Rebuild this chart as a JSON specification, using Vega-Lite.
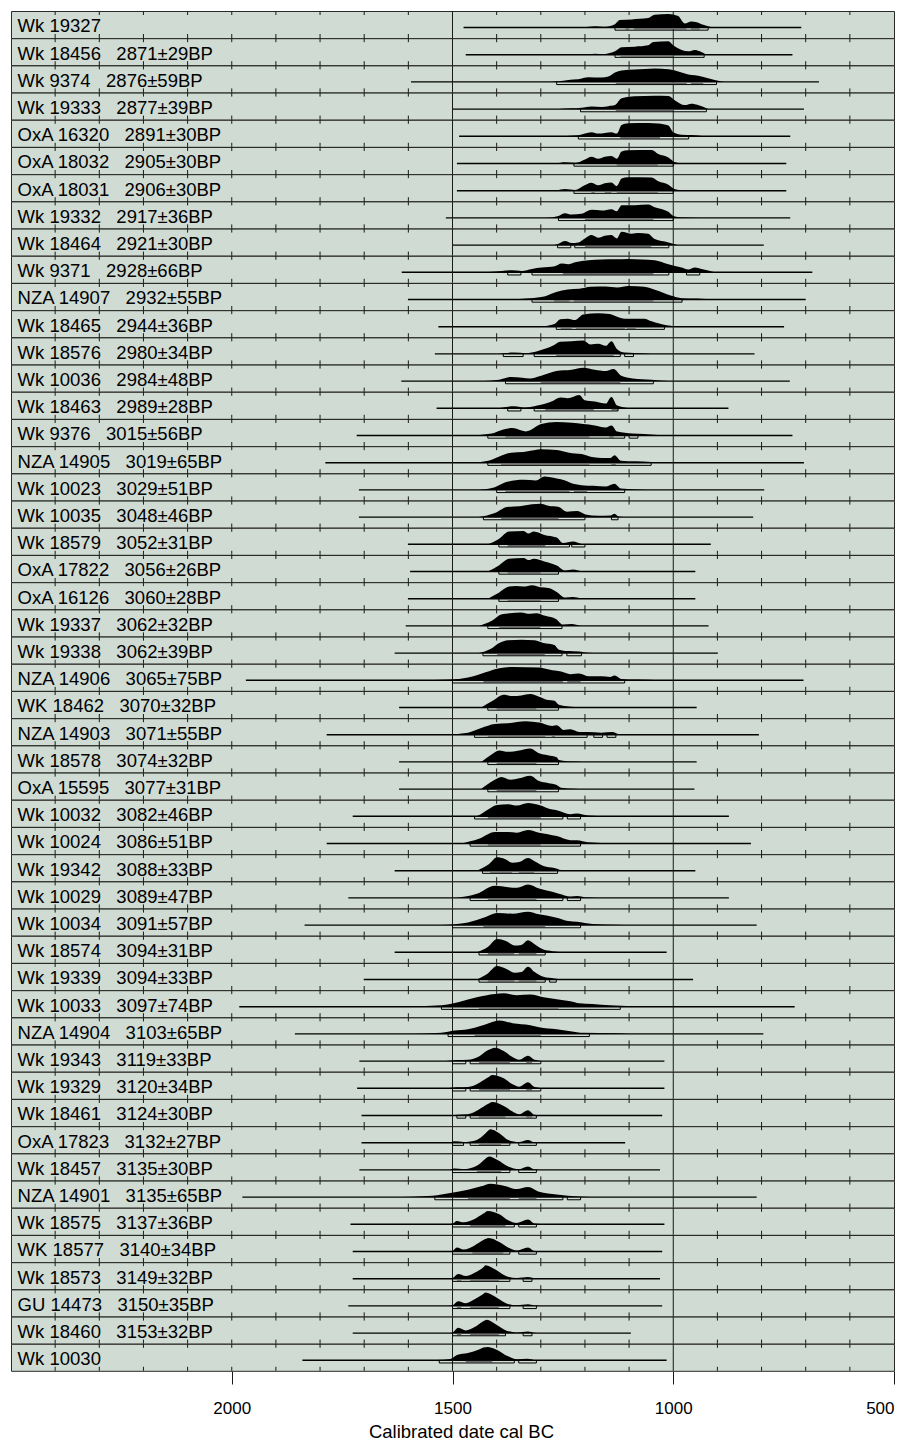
{
"$schema":"https://vega.github.io/schema/vega-lite/v6.json",
"padding":{"left":10,"top":10,"right":4,"bottom":2},
"background":"#ffffff",
"bounds":"flush",
"spacing":0.2,
"data":{"values":[
{"i":0,"k":"L","r":"Wk 19327","a":1475,"b":710},
{"i":0,"k":"D","x":1200,"p":0},{"i":0,"k":"D","x":1192,"p":0.05},{"i":0,"k":"D","x":1177,"p":0.1},{"i":0,"k":"D","x":1158,"p":0.05},{"i":0,"k":"D","x":1132,"p":0.25},{"i":0,"k":"D","x":1121,"p":0.55},{"i":0,"k":"D","x":1094,"p":0.6},{"i":0,"k":"D","x":1057,"p":0.7},{"i":0,"k":"D","x":1042,"p":0.95},{"i":0,"k":"D","x":1011,"p":1},{"i":0,"k":"D","x":989,"p":0.85},{"i":0,"k":"D","x":974,"p":0.3},{"i":0,"k":"D","x":959,"p":0.45},{"i":0,"k":"D","x":947,"p":0.4},{"i":0,"k":"D","x":932,"p":0.2},{"i":0,"k":"D","x":910,"p":0},
{"i":0,"k":"R95","a":1132,"b":921},{"i":0,"k":"R68","a":1108,"b":1100},{"i":0,"k":"R68","a":1089,"b":970},{"i":0,"k":"R68","a":960,"b":940},
{"i":1,"k":"L","r":"Wk 18456\u00a0\u00a0 2871±29BP","a":1470,"b":730},
{"i":1,"k":"D","x":1200,"p":0},{"i":1,"k":"D","x":1192,"p":0.03},{"i":1,"k":"D","x":1177,"p":0.07},{"i":1,"k":"D","x":1160,"p":0.04},{"i":1,"k":"D","x":1132,"p":0.25},{"i":1,"k":"D","x":1117,"p":0.55},{"i":1,"k":"D","x":1087,"p":0.6},{"i":1,"k":"D","x":1057,"p":0.7},{"i":1,"k":"D","x":1045,"p":0.95},{"i":1,"k":"D","x":1011,"p":1},{"i":1,"k":"D","x":1000,"p":0.7},{"i":1,"k":"D","x":981,"p":0.35},{"i":1,"k":"D","x":966,"p":0.25},{"i":1,"k":"D","x":951,"p":0.35},{"i":1,"k":"D","x":940,"p":0.25},{"i":1,"k":"D","x":925,"p":0},
{"i":1,"k":"R95","a":1132,"b":930},{"i":1,"k":"R68","a":1120,"b":1000},
{"i":2,"k":"L","r":"Wk 9374\u00a0\u00a0 2876±59BP","a":1594,"b":670},
{"i":2,"k":"D","x":1275,"p":0},{"i":2,"k":"D","x":1260,"p":0.05},{"i":2,"k":"D","x":1238,"p":0.15},{"i":2,"k":"D","x":1215,"p":0.2},{"i":2,"k":"D","x":1192,"p":0.35},{"i":2,"k":"D","x":1162,"p":0.33},{"i":2,"k":"D","x":1147,"p":0.4},{"i":2,"k":"D","x":1132,"p":0.7},{"i":2,"k":"D","x":1117,"p":0.85},{"i":2,"k":"D","x":1087,"p":0.92},{"i":2,"k":"D","x":1042,"p":1},{"i":2,"k":"D","x":1011,"p":0.95},{"i":2,"k":"D","x":981,"p":0.7},{"i":2,"k":"D","x":966,"p":0.55},{"i":2,"k":"D","x":951,"p":0.5},{"i":2,"k":"D","x":936,"p":0.4},{"i":2,"k":"D","x":906,"p":0.15},{"i":2,"k":"D","x":885,"p":0},
{"i":2,"k":"R95","a":1264,"b":902},{"i":2,"k":"R68","a":1130,"b":970},{"i":2,"k":"R68","a":960,"b":932},
{"i":3,"k":"L","r":"Wk 19333\u00a0\u00a0 2877±39BP","a":1500,"b":704},
{"i":3,"k":"D","x":1260,"p":0},{"i":3,"k":"D","x":1253,"p":0.02},{"i":3,"k":"D","x":1208,"p":0.1},{"i":3,"k":"D","x":1185,"p":0.2},{"i":3,"k":"D","x":1162,"p":0.15},{"i":3,"k":"D","x":1147,"p":0.22},{"i":3,"k":"D","x":1132,"p":0.3},{"i":3,"k":"D","x":1117,"p":0.8},{"i":3,"k":"D","x":1087,"p":0.95},{"i":3,"k":"D","x":1042,"p":1},{"i":3,"k":"D","x":1011,"p":0.98},{"i":3,"k":"D","x":996,"p":0.65},{"i":3,"k":"D","x":974,"p":0.3},{"i":3,"k":"D","x":959,"p":0.4},{"i":3,"k":"D","x":944,"p":0.3},{"i":3,"k":"D","x":921,"p":0},
{"i":3,"k":"R95","a":1210,"b":925},{"i":3,"k":"R68","a":1130,"b":1000},
{"i":4,"k":"L","r":"OxA 16320\u00a0\u00a0 2891±30BP","a":1485,"b":735},
{"i":4,"k":"D","x":1270,"p":0},{"i":4,"k":"D","x":1215,"p":0.08},{"i":4,"k":"D","x":1185,"p":0.3},{"i":4,"k":"D","x":1170,"p":0.2},{"i":4,"k":"D","x":1155,"p":0.25},{"i":4,"k":"D","x":1140,"p":0.3},{"i":4,"k":"D","x":1128,"p":0.2},{"i":4,"k":"D","x":1117,"p":0.85},{"i":4,"k":"D","x":1102,"p":0.97},{"i":4,"k":"D","x":1057,"p":1},{"i":4,"k":"D","x":1034,"p":0.95},{"i":4,"k":"D","x":1011,"p":0.8},{"i":4,"k":"D","x":1000,"p":0.3},{"i":4,"k":"D","x":981,"p":0.12},{"i":4,"k":"D","x":959,"p":0.1},{"i":4,"k":"D","x":930,"p":0},
{"i":4,"k":"R95","a":1215,"b":965},{"i":4,"k":"R68","a":1120,"b":1030},
{"i":5,"k":"L","r":"OxA 18032\u00a0\u00a0 2905±30BP","a":1490,"b":744},
{"i":5,"k":"D","x":1265,"p":0},{"i":5,"k":"D","x":1245,"p":0.1},{"i":5,"k":"D","x":1222,"p":0.05},{"i":5,"k":"D","x":1200,"p":0.3},{"i":5,"k":"D","x":1185,"p":0.5},{"i":5,"k":"D","x":1170,"p":0.35},{"i":5,"k":"D","x":1155,"p":0.5},{"i":5,"k":"D","x":1140,"p":0.55},{"i":5,"k":"D","x":1128,"p":0.35},{"i":5,"k":"D","x":1117,"p":0.9},{"i":5,"k":"D","x":1102,"p":0.98},{"i":5,"k":"D","x":1049,"p":1},{"i":5,"k":"D","x":1034,"p":0.7},{"i":5,"k":"D","x":1011,"p":0.45},{"i":5,"k":"D","x":996,"p":0.1},{"i":5,"k":"D","x":974,"p":0},
{"i":5,"k":"R95","a":1225,"b":1000},{"i":5,"k":"R68","a":1128,"b":1035},
{"i":6,"k":"L","r":"OxA 18031\u00a0\u00a0 2906±30BP","a":1490,"b":744},
{"i":6,"k":"D","x":1265,"p":0},{"i":6,"k":"D","x":1245,"p":0.12},{"i":6,"k":"D","x":1222,"p":0.05},{"i":6,"k":"D","x":1204,"p":0.35},{"i":6,"k":"D","x":1185,"p":0.6},{"i":6,"k":"D","x":1170,"p":0.4},{"i":6,"k":"D","x":1155,"p":0.55},{"i":6,"k":"D","x":1140,"p":0.62},{"i":6,"k":"D","x":1128,"p":0.35},{"i":6,"k":"D","x":1117,"p":0.9},{"i":6,"k":"D","x":1102,"p":1},{"i":6,"k":"D","x":1049,"p":0.98},{"i":6,"k":"D","x":1034,"p":0.7},{"i":6,"k":"D","x":1011,"p":0.45},{"i":6,"k":"D","x":996,"p":0.1},{"i":6,"k":"D","x":974,"p":0},
{"i":6,"k":"R95","a":1225,"b":1000},{"i":6,"k":"R68","a":1185,"b":1178},{"i":6,"k":"R68","a":1155,"b":1140},{"i":6,"k":"R68","a":1128,"b":1035},
{"i":7,"k":"L","r":"Wk 19332\u00a0\u00a0 2917±36BP","a":1515,"b":735},
{"i":7,"k":"D","x":1290,"p":0},{"i":7,"k":"D","x":1260,"p":0.15},{"i":7,"k":"D","x":1245,"p":0.35},{"i":7,"k":"D","x":1230,"p":0.25},{"i":7,"k":"D","x":1208,"p":0.3},{"i":7,"k":"D","x":1185,"p":0.6},{"i":7,"k":"D","x":1162,"p":0.55},{"i":7,"k":"D","x":1140,"p":0.65},{"i":7,"k":"D","x":1128,"p":0.5},{"i":7,"k":"D","x":1117,"p":0.95},{"i":7,"k":"D","x":1087,"p":0.95},{"i":7,"k":"D","x":1057,"p":1},{"i":7,"k":"D","x":1042,"p":0.8},{"i":7,"k":"D","x":1011,"p":0.45},{"i":7,"k":"D","x":1000,"p":0.15},{"i":7,"k":"D","x":974,"p":0.03},{"i":7,"k":"D","x":940,"p":0},
{"i":7,"k":"R95","a":1260,"b":1000},{"i":7,"k":"R68","a":1200,"b":1045},
{"i":8,"k":"L","r":"Wk 18464\u00a0\u00a0 2921±30BP","a":1500,"b":795},
{"i":8,"k":"D","x":1270,"p":0},{"i":8,"k":"D","x":1260,"p":0.1},{"i":8,"k":"D","x":1245,"p":0.3},{"i":8,"k":"D","x":1230,"p":0.15},{"i":8,"k":"D","x":1215,"p":0.2},{"i":8,"k":"D","x":1200,"p":0.5},{"i":8,"k":"D","x":1185,"p":0.75},{"i":8,"k":"D","x":1170,"p":0.55},{"i":8,"k":"D","x":1155,"p":0.7},{"i":8,"k":"D","x":1140,"p":0.75},{"i":8,"k":"D","x":1128,"p":0.5},{"i":8,"k":"D","x":1117,"p":1},{"i":8,"k":"D","x":1094,"p":0.85},{"i":8,"k":"D","x":1079,"p":0.9},{"i":8,"k":"D","x":1057,"p":0.85},{"i":8,"k":"D","x":1042,"p":0.45},{"i":8,"k":"D","x":1011,"p":0.2},{"i":8,"k":"D","x":990,"p":0},
{"i":8,"k":"R95","a":1262,"b":1232},{"i":8,"k":"R95","a":1223,"b":1010},{"i":8,"k":"R68","a":1200,"b":1050},
{"i":9,"k":"L","r":"Wk 9371\u00a0\u00a0 2928±66BP","a":1615,"b":685},
{"i":9,"k":"D","x":1430,"p":0},{"i":9,"k":"D","x":1388,"p":0.1},{"i":9,"k":"D","x":1366,"p":0.15},{"i":9,"k":"D","x":1343,"p":0.1},{"i":9,"k":"D","x":1320,"p":0.25},{"i":9,"k":"D","x":1298,"p":0.35},{"i":9,"k":"D","x":1268,"p":0.45},{"i":9,"k":"D","x":1253,"p":0.65},{"i":9,"k":"D","x":1238,"p":0.6},{"i":9,"k":"D","x":1222,"p":0.75},{"i":9,"k":"D","x":1192,"p":0.9},{"i":9,"k":"D","x":1162,"p":0.95},{"i":9,"k":"D","x":1132,"p":0.97},{"i":9,"k":"D","x":1102,"p":1},{"i":9,"k":"D","x":1072,"p":0.95},{"i":9,"k":"D","x":1042,"p":0.9},{"i":9,"k":"D","x":1011,"p":0.6},{"i":9,"k":"D","x":981,"p":0.35},{"i":9,"k":"D","x":966,"p":0.2},{"i":9,"k":"D","x":951,"p":0.35},{"i":9,"k":"D","x":936,"p":0.25},{"i":9,"k":"D","x":906,"p":0},
{"i":9,"k":"R95","a":1375,"b":1345},{"i":9,"k":"R95","a":1320,"b":1010},{"i":9,"k":"R95","a":970,"b":940},{"i":9,"k":"R68","a":1250,"b":1045},
{"i":10,"k":"L","r":"NZA 14907\u00a0\u00a0 2932±55BP","a":1601,"b":700},
{"i":10,"k":"D","x":1390,"p":0},{"i":10,"k":"D","x":1325,"p":0.1},{"i":10,"k":"D","x":1290,"p":0.25},{"i":10,"k":"D","x":1265,"p":0.55},{"i":10,"k":"D","x":1239,"p":0.75},{"i":10,"k":"D","x":1213,"p":0.8},{"i":10,"k":"D","x":1187,"p":0.95},{"i":10,"k":"D","x":1153,"p":0.97},{"i":10,"k":"D","x":1127,"p":0.9},{"i":10,"k":"D","x":1101,"p":1},{"i":10,"k":"D","x":1066,"p":0.95},{"i":10,"k":"D","x":1040,"p":0.7},{"i":10,"k":"D","x":1006,"p":0.3},{"i":10,"k":"D","x":980,"p":0.1},{"i":10,"k":"D","x":946,"p":0.08},{"i":10,"k":"D","x":905,"p":0},
{"i":10,"k":"R95","a":1320,"b":980},{"i":10,"k":"R68","a":1270,"b":1235},{"i":10,"k":"R68","a":1225,"b":1045},
{"i":11,"k":"L","r":"Wk 18465\u00a0\u00a0 2944±36BP","a":1532,"b":749},
{"i":11,"k":"D","x":1300,"p":0},{"i":11,"k":"D","x":1269,"p":0.2},{"i":11,"k":"D","x":1256,"p":0.55},{"i":11,"k":"D","x":1239,"p":0.6},{"i":11,"k":"D","x":1222,"p":0.5},{"i":11,"k":"D","x":1204,"p":0.9},{"i":11,"k":"D","x":1170,"p":1},{"i":11,"k":"D","x":1144,"p":0.95},{"i":11,"k":"D","x":1127,"p":0.75},{"i":11,"k":"D","x":1110,"p":0.6},{"i":11,"k":"D","x":1092,"p":0.6},{"i":11,"k":"D","x":1066,"p":0.6},{"i":11,"k":"D","x":1049,"p":0.4},{"i":11,"k":"D","x":1015,"p":0.1},{"i":11,"k":"D","x":980,"p":0},
{"i":11,"k":"R95","a":1265,"b":1020},{"i":11,"k":"R68","a":1255,"b":1230},{"i":11,"k":"R68","a":1220,"b":1110},{"i":11,"k":"R68","a":1105,"b":1085},
{"i":12,"k":"L","r":"Wk 18576\u00a0\u00a0 2980±34BP","a":1540,"b":816},
{"i":12,"k":"D","x":1395,"p":0},{"i":12,"k":"D","x":1360,"p":0.1},{"i":12,"k":"D","x":1334,"p":0.05},{"i":12,"k":"D","x":1308,"p":0.2},{"i":12,"k":"D","x":1273,"p":0.6},{"i":12,"k":"D","x":1256,"p":0.9},{"i":12,"k":"D","x":1230,"p":0.95},{"i":12,"k":"D","x":1204,"p":1},{"i":12,"k":"D","x":1187,"p":0.7},{"i":12,"k":"D","x":1170,"p":0.75},{"i":12,"k":"D","x":1153,"p":0.6},{"i":12,"k":"D","x":1140,"p":0.95},{"i":12,"k":"D","x":1127,"p":0.35},{"i":12,"k":"D","x":1110,"p":0.1},{"i":12,"k":"D","x":1066,"p":0.03},{"i":12,"k":"D","x":1050,"p":0},
{"i":12,"k":"R95","a":1385,"b":1340},{"i":12,"k":"R95","a":1315,"b":1120},{"i":12,"k":"R95","a":1110,"b":1090},{"i":12,"k":"R68","a":1265,"b":1135},
{"i":13,"k":"L","r":"Wk 10036\u00a0\u00a0 2984±48BP","a":1616,"b":736},
{"i":13,"k":"D","x":1440,"p":0},{"i":13,"k":"D","x":1394,"p":0.1},{"i":13,"k":"D","x":1368,"p":0.3},{"i":13,"k":"D","x":1342,"p":0.25},{"i":13,"k":"D","x":1325,"p":0.2},{"i":13,"k":"D","x":1299,"p":0.4},{"i":13,"k":"D","x":1265,"p":0.75},{"i":13,"k":"D","x":1230,"p":0.85},{"i":13,"k":"D","x":1204,"p":1},{"i":13,"k":"D","x":1178,"p":0.85},{"i":13,"k":"D","x":1153,"p":0.75},{"i":13,"k":"D","x":1135,"p":0.9},{"i":13,"k":"D","x":1118,"p":0.4},{"i":13,"k":"D","x":1092,"p":0.2},{"i":13,"k":"D","x":1049,"p":0.1},{"i":13,"k":"D","x":1010,"p":0},
{"i":13,"k":"R95","a":1380,"b":1045},{"i":13,"k":"R68","a":1300,"b":1120},
{"i":14,"k":"L","r":"Wk 18463\u00a0\u00a0 2989±28BP","a":1536,"b":875},
{"i":14,"k":"D","x":1395,"p":0},{"i":14,"k":"D","x":1360,"p":0.15},{"i":14,"k":"D","x":1334,"p":0.05},{"i":14,"k":"D","x":1308,"p":0.2},{"i":14,"k":"D","x":1273,"p":0.55},{"i":14,"k":"D","x":1256,"p":0.8},{"i":14,"k":"D","x":1239,"p":0.75},{"i":14,"k":"D","x":1213,"p":1},{"i":14,"k":"D","x":1200,"p":0.6},{"i":14,"k":"D","x":1178,"p":0.5},{"i":14,"k":"D","x":1153,"p":0.35},{"i":14,"k":"D","x":1140,"p":0.85},{"i":14,"k":"D","x":1127,"p":0.2},{"i":14,"k":"D","x":1100,"p":0},
{"i":14,"k":"R95","a":1375,"b":1345},{"i":14,"k":"R95","a":1315,"b":1125},{"i":14,"k":"R68","a":1290,"b":1180},{"i":14,"k":"R68","a":1140,"b":1125},
{"i":15,"k":"L","r":"Wk 9376\u00a0\u00a0 3015±56BP","a":1717,"b":730},
{"i":15,"k":"D","x":1465,"p":0},{"i":15,"k":"D","x":1411,"p":0.15},{"i":15,"k":"D","x":1385,"p":0.45},{"i":15,"k":"D","x":1364,"p":0.55},{"i":15,"k":"D","x":1334,"p":0.3},{"i":15,"k":"D","x":1299,"p":0.85},{"i":15,"k":"D","x":1265,"p":1},{"i":15,"k":"D","x":1230,"p":0.95},{"i":15,"k":"D","x":1204,"p":0.85},{"i":15,"k":"D","x":1178,"p":0.75},{"i":15,"k":"D","x":1153,"p":0.6},{"i":15,"k":"D","x":1140,"p":0.75},{"i":15,"k":"D","x":1127,"p":0.3},{"i":15,"k":"D","x":1092,"p":0.15},{"i":15,"k":"D","x":1066,"p":0.12},{"i":15,"k":"D","x":1020,"p":0},
{"i":15,"k":"R95","a":1420,"b":1110},{"i":15,"k":"R95","a":1100,"b":1080},{"i":15,"k":"R68","a":1380,"b":1190},{"i":15,"k":"R68","a":1145,"b":1135},
{"i":16,"k":"L","r":"NZA 14905\u00a0\u00a0 3019±65BP","a":1788,"b":704},
{"i":16,"k":"D","x":1460,"p":0},{"i":16,"k":"D","x":1419,"p":0.15},{"i":16,"k":"D","x":1395,"p":0.45},{"i":16,"k":"D","x":1367,"p":0.75},{"i":16,"k":"D","x":1339,"p":0.8},{"i":16,"k":"D","x":1320,"p":0.9},{"i":16,"k":"D","x":1301,"p":1},{"i":16,"k":"D","x":1264,"p":0.95},{"i":16,"k":"D","x":1236,"p":0.75},{"i":16,"k":"D","x":1208,"p":0.65},{"i":16,"k":"D","x":1180,"p":0.4},{"i":16,"k":"D","x":1161,"p":0.35},{"i":16,"k":"D","x":1142,"p":0.35},{"i":16,"k":"D","x":1133,"p":0.55},{"i":16,"k":"D","x":1119,"p":0.15},{"i":16,"k":"D","x":1086,"p":0.1},{"i":16,"k":"D","x":1049,"p":0.05},{"i":16,"k":"D","x":1005,"p":0},
{"i":16,"k":"R95","a":1420,"b":1050},{"i":16,"k":"R68","a":1390,"b":1190},{"i":16,"k":"R68","a":1140,"b":1130},
{"i":17,"k":"L","r":"Wk 10023\u00a0\u00a0 3029±51BP","a":1712,"b":794},
{"i":17,"k":"D","x":1440,"p":0},{"i":17,"k":"D","x":1404,"p":0.2},{"i":17,"k":"D","x":1376,"p":0.6},{"i":17,"k":"D","x":1339,"p":0.75},{"i":17,"k":"D","x":1311,"p":0.7},{"i":17,"k":"D","x":1292,"p":1},{"i":17,"k":"D","x":1264,"p":0.85},{"i":17,"k":"D","x":1245,"p":0.7},{"i":17,"k":"D","x":1227,"p":0.45},{"i":17,"k":"D","x":1208,"p":0.35},{"i":17,"k":"D","x":1180,"p":0.3},{"i":17,"k":"D","x":1152,"p":0.25},{"i":17,"k":"D","x":1133,"p":0.45},{"i":17,"k":"D","x":1119,"p":0.1},{"i":17,"k":"D","x":1086,"p":0.03},{"i":17,"k":"D","x":1060,"p":0},
{"i":17,"k":"R95","a":1400,"b":1110},{"i":17,"k":"R68","a":1380,"b":1235},{"i":17,"k":"R68","a":1225,"b":1195},
{"i":18,"k":"L","r":"Wk 10035\u00a0\u00a0 3048±46BP","a":1712,"b":819},
{"i":18,"k":"D","x":1440,"p":0},{"i":18,"k":"D","x":1404,"p":0.3},{"i":18,"k":"D","x":1376,"p":0.75},{"i":18,"k":"D","x":1348,"p":0.8},{"i":18,"k":"D","x":1320,"p":0.95},{"i":18,"k":"D","x":1301,"p":1},{"i":18,"k":"D","x":1283,"p":0.85},{"i":18,"k":"D","x":1259,"p":0.75},{"i":18,"k":"D","x":1241,"p":0.4},{"i":18,"k":"D","x":1217,"p":0.45},{"i":18,"k":"D","x":1199,"p":0.2},{"i":18,"k":"D","x":1170,"p":0.1},{"i":18,"k":"D","x":1142,"p":0.12},{"i":18,"k":"D","x":1133,"p":0.25},{"i":18,"k":"D","x":1124,"p":0.05},{"i":18,"k":"D","x":1100,"p":0},
{"i":18,"k":"R95","a":1430,"b":1200},{"i":18,"k":"R95","a":1140,"b":1125},{"i":18,"k":"R68","a":1390,"b":1260},
{"i":19,"k":"L","r":"Wk 18579\u00a0\u00a0 3052±31BP","a":1601,"b":915},
{"i":19,"k":"D","x":1420,"p":0},{"i":19,"k":"D","x":1395,"p":0.4},{"i":19,"k":"D","x":1372,"p":0.95},{"i":19,"k":"D","x":1339,"p":1},{"i":19,"k":"D","x":1328,"p":0.8},{"i":19,"k":"D","x":1316,"p":0.95},{"i":19,"k":"D","x":1292,"p":0.7},{"i":19,"k":"D","x":1264,"p":0.5},{"i":19,"k":"D","x":1250,"p":0.1},{"i":19,"k":"D","x":1227,"p":0.2},{"i":19,"k":"D","x":1208,"p":0.03},{"i":19,"k":"D","x":1190,"p":0},
{"i":19,"k":"R95","a":1395,"b":1235},{"i":19,"k":"R95","a":1230,"b":1200},{"i":19,"k":"R68","a":1375,"b":1290},
{"i":20,"k":"L","r":"OxA 17822\u00a0\u00a0 3056±26BP","a":1596,"b":950},
{"i":20,"k":"D","x":1420,"p":0},{"i":20,"k":"D","x":1395,"p":0.45},{"i":20,"k":"D","x":1372,"p":0.95},{"i":20,"k":"D","x":1339,"p":1},{"i":20,"k":"D","x":1328,"p":0.85},{"i":20,"k":"D","x":1316,"p":0.95},{"i":20,"k":"D","x":1292,"p":0.75},{"i":20,"k":"D","x":1264,"p":0.45},{"i":20,"k":"D","x":1245,"p":0.08},{"i":20,"k":"D","x":1227,"p":0.15},{"i":20,"k":"D","x":1208,"p":0.02},{"i":20,"k":"D","x":1195,"p":0},
{"i":20,"k":"R95","a":1395,"b":1260},{"i":20,"k":"R68","a":1375,"b":1300},
{"i":21,"k":"L","r":"OxA 16126\u00a0\u00a0 3060±28BP","a":1601,"b":950},
{"i":21,"k":"D","x":1420,"p":0},{"i":21,"k":"D","x":1395,"p":0.45},{"i":21,"k":"D","x":1372,"p":0.9},{"i":21,"k":"D","x":1357,"p":0.95},{"i":21,"k":"D","x":1339,"p":0.9},{"i":21,"k":"D","x":1320,"p":1},{"i":21,"k":"D","x":1301,"p":0.85},{"i":21,"k":"D","x":1283,"p":0.8},{"i":21,"k":"D","x":1264,"p":0.5},{"i":21,"k":"D","x":1245,"p":0.08},{"i":21,"k":"D","x":1227,"p":0.12},{"i":21,"k":"D","x":1208,"p":0.02},{"i":21,"k":"D","x":1195,"p":0},
{"i":21,"k":"R95","a":1395,"b":1260},{"i":21,"k":"R68","a":1375,"b":1300},
{"i":22,"k":"L","r":"Wk 19337\u00a0\u00a0 3062±32BP","a":1606,"b":920},
{"i":22,"k":"D","x":1440,"p":0},{"i":22,"k":"D","x":1410,"p":0.4},{"i":22,"k":"D","x":1390,"p":0.85},{"i":22,"k":"D","x":1370,"p":0.95},{"i":22,"k":"D","x":1345,"p":1},{"i":22,"k":"D","x":1325,"p":0.9},{"i":22,"k":"D","x":1310,"p":0.95},{"i":22,"k":"D","x":1290,"p":0.75},{"i":22,"k":"D","x":1265,"p":0.5},{"i":22,"k":"D","x":1250,"p":0.1},{"i":22,"k":"D","x":1230,"p":0.15},{"i":22,"k":"D","x":1210,"p":0},
{"i":22,"k":"R95","a":1420,"b":1252},{"i":22,"k":"R68","a":1394,"b":1301},
{"i":23,"k":"L","r":"Wk 19338\u00a0\u00a0 3062±39BP","a":1631,"b":899},
{"i":23,"k":"D","x":1440,"p":0},{"i":23,"k":"D","x":1414,"p":0.3},{"i":23,"k":"D","x":1394,"p":0.75},{"i":23,"k":"D","x":1374,"p":0.95},{"i":23,"k":"D","x":1344,"p":1},{"i":23,"k":"D","x":1314,"p":0.95},{"i":23,"k":"D","x":1294,"p":0.75},{"i":23,"k":"D","x":1269,"p":0.6},{"i":23,"k":"D","x":1259,"p":0.25},{"i":23,"k":"D","x":1238,"p":0.15},{"i":23,"k":"D","x":1213,"p":0.12},{"i":23,"k":"D","x":1193,"p":0.02},{"i":23,"k":"D","x":1170,"p":0},
{"i":23,"k":"R95","a":1431,"b":1252},{"i":23,"k":"R95","a":1241,"b":1208},{"i":23,"k":"R68","a":1399,"b":1291},
{"i":24,"k":"L","r":"NZA 14906\u00a0\u00a0 3065±75BP","a":1968,"b":705},
{"i":24,"k":"D","x":1580,"p":0},{"i":24,"k":"D","x":1505,"p":0.05},{"i":24,"k":"D","x":1465,"p":0.2},{"i":24,"k":"D","x":1425,"p":0.6},{"i":24,"k":"D","x":1394,"p":0.9},{"i":24,"k":"D","x":1364,"p":1},{"i":24,"k":"D","x":1304,"p":0.95},{"i":24,"k":"D","x":1274,"p":0.75},{"i":24,"k":"D","x":1254,"p":0.65},{"i":24,"k":"D","x":1233,"p":0.45},{"i":24,"k":"D","x":1213,"p":0.5},{"i":24,"k":"D","x":1193,"p":0.3},{"i":24,"k":"D","x":1163,"p":0.3},{"i":24,"k":"D","x":1143,"p":0.25},{"i":24,"k":"D","x":1133,"p":0.35},{"i":24,"k":"D","x":1118,"p":0.1},{"i":24,"k":"D","x":1082,"p":0.05},{"i":24,"k":"D","x":1030,"p":0},
{"i":24,"k":"R95","a":1500,"b":1110},{"i":24,"k":"R68","a":1430,"b":1250},{"i":24,"k":"R68","a":1240,"b":1210},
{"i":25,"k":"L","r":"WK 18462\u00a0\u00a0 3070±32BP","a":1621,"b":947},
{"i":25,"k":"D","x":1435,"p":0},{"i":25,"k":"D","x":1409,"p":0.5},{"i":25,"k":"D","x":1384,"p":0.95},{"i":25,"k":"D","x":1364,"p":0.85},{"i":25,"k":"D","x":1344,"p":0.9},{"i":25,"k":"D","x":1324,"p":1},{"i":25,"k":"D","x":1304,"p":0.8},{"i":25,"k":"D","x":1284,"p":0.55},{"i":25,"k":"D","x":1269,"p":0.5},{"i":25,"k":"D","x":1259,"p":0.2},{"i":25,"k":"D","x":1223,"p":0.03},{"i":25,"k":"D","x":1200,"p":0},
{"i":25,"k":"R95","a":1420,"b":1260},{"i":25,"k":"R68","a":1400,"b":1310},
{"i":26,"k":"L","r":"NZA 14903\u00a0\u00a0 3071±55BP","a":1785,"b":806},
{"i":26,"k":"D","x":1520,"p":0},{"i":26,"k":"D","x":1465,"p":0.15},{"i":26,"k":"D","x":1435,"p":0.5},{"i":26,"k":"D","x":1404,"p":0.8},{"i":26,"k":"D","x":1374,"p":0.85},{"i":26,"k":"D","x":1334,"p":1},{"i":26,"k":"D","x":1304,"p":0.9},{"i":26,"k":"D","x":1274,"p":0.65},{"i":26,"k":"D","x":1264,"p":0.7},{"i":26,"k":"D","x":1248,"p":0.35},{"i":26,"k":"D","x":1233,"p":0.4},{"i":26,"k":"D","x":1213,"p":0.2},{"i":26,"k":"D","x":1193,"p":0.2},{"i":26,"k":"D","x":1163,"p":0.15},{"i":26,"k":"D","x":1138,"p":0.2},{"i":26,"k":"D","x":1123,"p":0.03},{"i":26,"k":"D","x":1100,"p":0},
{"i":26,"k":"R95","a":1450,"b":1195},{"i":26,"k":"R95","a":1180,"b":1160},{"i":26,"k":"R95","a":1150,"b":1130},{"i":26,"k":"R68","a":1420,"b":1290},{"i":26,"k":"R68","a":1275,"b":1268},
{"i":27,"k":"L","r":"Wk 18578\u00a0\u00a0 3074±32BP","a":1621,"b":947},
{"i":27,"k":"D","x":1435,"p":0},{"i":27,"k":"D","x":1414,"p":0.5},{"i":27,"k":"D","x":1394,"p":0.85},{"i":27,"k":"D","x":1374,"p":0.75},{"i":27,"k":"D","x":1349,"p":0.85},{"i":27,"k":"D","x":1324,"p":1},{"i":27,"k":"D","x":1304,"p":0.65},{"i":27,"k":"D","x":1284,"p":0.5},{"i":27,"k":"D","x":1264,"p":0.35},{"i":27,"k":"D","x":1259,"p":0.15},{"i":27,"k":"D","x":1223,"p":0.02},{"i":27,"k":"D","x":1205,"p":0},
{"i":27,"k":"R95","a":1420,"b":1260},{"i":27,"k":"R68","a":1400,"b":1310},
{"i":28,"k":"L","r":"OxA 15595\u00a0\u00a0 3077±31BP","a":1621,"b":952},
{"i":28,"k":"D","x":1435,"p":0},{"i":28,"k":"D","x":1409,"p":0.6},{"i":28,"k":"D","x":1389,"p":0.9},{"i":28,"k":"D","x":1369,"p":0.7},{"i":28,"k":"D","x":1349,"p":0.8},{"i":28,"k":"D","x":1324,"p":1},{"i":28,"k":"D","x":1304,"p":0.6},{"i":28,"k":"D","x":1284,"p":0.45},{"i":28,"k":"D","x":1264,"p":0.3},{"i":28,"k":"D","x":1254,"p":0.1},{"i":28,"k":"D","x":1223,"p":0.02},{"i":28,"k":"D","x":1205,"p":0},
{"i":28,"k":"R95","a":1420,"b":1260},{"i":28,"k":"R68","a":1400,"b":1310},
{"i":29,"k":"L","r":"Wk 10032\u00a0\u00a0 3082±46BP","a":1726,"b":874},
{"i":29,"k":"D","x":1460,"p":0},{"i":29,"k":"D","x":1445,"p":0.03},{"i":29,"k":"D","x":1425,"p":0.4},{"i":29,"k":"D","x":1399,"p":0.85},{"i":29,"k":"D","x":1374,"p":0.9},{"i":29,"k":"D","x":1354,"p":0.8},{"i":29,"k":"D","x":1329,"p":1},{"i":29,"k":"D","x":1304,"p":0.85},{"i":29,"k":"D","x":1274,"p":0.5},{"i":29,"k":"D","x":1264,"p":0.45},{"i":29,"k":"D","x":1233,"p":0.15},{"i":29,"k":"D","x":1218,"p":0.2},{"i":29,"k":"D","x":1193,"p":0.05},{"i":29,"k":"D","x":1150,"p":0},
{"i":29,"k":"R95","a":1450,"b":1250},{"i":29,"k":"R95","a":1240,"b":1210},{"i":29,"k":"R68","a":1420,"b":1300},
{"i":30,"k":"L","r":"Wk 10024\u00a0\u00a0 3086±51BP","a":1785,"b":824},
{"i":30,"k":"D","x":1480,"p":0},{"i":30,"k":"D","x":1440,"p":0.35},{"i":30,"k":"D","x":1404,"p":0.85},{"i":30,"k":"D","x":1374,"p":0.85},{"i":30,"k":"D","x":1354,"p":0.8},{"i":30,"k":"D","x":1329,"p":1},{"i":30,"k":"D","x":1304,"p":0.8},{"i":30,"k":"D","x":1264,"p":0.55},{"i":30,"k":"D","x":1233,"p":0.25},{"i":30,"k":"D","x":1218,"p":0.25},{"i":30,"k":"D","x":1193,"p":0.1},{"i":30,"k":"D","x":1133,"p":0.02},{"i":30,"k":"D","x":1110,"p":0},
{"i":30,"k":"R95","a":1460,"b":1210},{"i":30,"k":"R68","a":1420,"b":1300},
{"i":31,"k":"L","r":"Wk 19342\u00a0\u00a0 3088±33BP","a":1631,"b":950},
{"i":31,"k":"D","x":1445,"p":0},{"i":31,"k":"D","x":1417,"p":0.5},{"i":31,"k":"D","x":1399,"p":1},{"i":31,"k":"D","x":1384,"p":0.9},{"i":31,"k":"D","x":1364,"p":0.6},{"i":31,"k":"D","x":1349,"p":0.65},{"i":31,"k":"D","x":1329,"p":0.95},{"i":31,"k":"D","x":1314,"p":0.7},{"i":31,"k":"D","x":1294,"p":0.35},{"i":31,"k":"D","x":1269,"p":0.2},{"i":31,"k":"D","x":1254,"p":0.05},{"i":31,"k":"D","x":1230,"p":0},
{"i":31,"k":"R95","a":1432,"b":1262},{"i":31,"k":"R68","a":1415,"b":1365},{"i":31,"k":"R68","a":1350,"b":1315},
{"i":32,"k":"L","r":"Wk 10029\u00a0\u00a0 3089±47BP","a":1736,"b":874},
{"i":32,"k":"D","x":1490,"p":0},{"i":32,"k":"D","x":1445,"p":0.3},{"i":32,"k":"D","x":1404,"p":0.9},{"i":32,"k":"D","x":1374,"p":0.8},{"i":32,"k":"D","x":1354,"p":0.75},{"i":32,"k":"D","x":1329,"p":1},{"i":32,"k":"D","x":1304,"p":0.7},{"i":32,"k":"D","x":1274,"p":0.45},{"i":32,"k":"D","x":1259,"p":0.3},{"i":32,"k":"D","x":1233,"p":0.1},{"i":32,"k":"D","x":1218,"p":0.15},{"i":32,"k":"D","x":1193,"p":0.02},{"i":32,"k":"D","x":1170,"p":0},
{"i":32,"k":"R95","a":1460,"b":1250},{"i":32,"k":"R95","a":1240,"b":1210},{"i":32,"k":"R68","a":1420,"b":1310},
{"i":33,"k":"L","r":"Wk 10034\u00a0\u00a0 3091±57BP","a":1835,"b":811},
{"i":33,"k":"D","x":1525,"p":0},{"i":33,"k":"D","x":1465,"p":0.2},{"i":33,"k":"D","x":1425,"p":0.6},{"i":33,"k":"D","x":1399,"p":0.9},{"i":33,"k":"D","x":1364,"p":0.85},{"i":33,"k":"D","x":1329,"p":1},{"i":33,"k":"D","x":1304,"p":0.8},{"i":33,"k":"D","x":1264,"p":0.55},{"i":33,"k":"D","x":1238,"p":0.3},{"i":33,"k":"D","x":1218,"p":0.25},{"i":33,"k":"D","x":1183,"p":0.08},{"i":33,"k":"D","x":1133,"p":0.03},{"i":33,"k":"D","x":1090,"p":0},
{"i":33,"k":"R95","a":1500,"b":1210},{"i":33,"k":"R68","a":1430,"b":1290},
{"i":34,"k":"L","r":"Wk 18574\u00a0\u00a0 3094±31BP","a":1631,"b":1015},
{"i":34,"k":"D","x":1445,"p":0},{"i":34,"k":"D","x":1420,"p":0.4},{"i":34,"k":"D","x":1399,"p":1},{"i":34,"k":"D","x":1379,"p":0.85},{"i":34,"k":"D","x":1359,"p":0.5},{"i":34,"k":"D","x":1344,"p":0.55},{"i":34,"k":"D","x":1329,"p":0.9},{"i":34,"k":"D","x":1314,"p":0.6},{"i":34,"k":"D","x":1294,"p":0.2},{"i":34,"k":"D","x":1274,"p":0.08},{"i":34,"k":"D","x":1243,"p":0},
{"i":34,"k":"R95","a":1440,"b":1290},{"i":34,"k":"R68","a":1420,"b":1360},{"i":34,"k":"R68","a":1350,"b":1310},
{"i":35,"k":"L","r":"Wk 19339\u00a0\u00a0 3094±33BP","a":1701,"b":955},
{"i":35,"k":"D","x":1445,"p":0},{"i":35,"k":"D","x":1420,"p":0.45},{"i":35,"k":"D","x":1399,"p":1},{"i":35,"k":"D","x":1379,"p":0.8},{"i":35,"k":"D","x":1359,"p":0.5},{"i":35,"k":"D","x":1344,"p":0.55},{"i":35,"k":"D","x":1329,"p":0.95},{"i":35,"k":"D","x":1314,"p":0.55},{"i":35,"k":"D","x":1294,"p":0.2},{"i":35,"k":"D","x":1269,"p":0.08},{"i":35,"k":"D","x":1250,"p":0},
{"i":35,"k":"R95","a":1440,"b":1290},{"i":35,"k":"R95","a":1280,"b":1265},{"i":35,"k":"R68","a":1420,"b":1360},{"i":35,"k":"R68","a":1350,"b":1310},
{"i":36,"k":"L","r":"Wk 10033\u00a0\u00a0 3097±74BP","a":1983,"b":725},
{"i":36,"k":"D","x":1620,"p":0},{"i":36,"k":"D","x":1525,"p":0.1},{"i":36,"k":"D","x":1485,"p":0.35},{"i":36,"k":"D","x":1445,"p":0.7},{"i":36,"k":"D","x":1404,"p":0.95},{"i":36,"k":"D","x":1384,"p":1},{"i":36,"k":"D","x":1354,"p":0.85},{"i":36,"k":"D","x":1324,"p":0.9},{"i":36,"k":"D","x":1294,"p":0.7},{"i":36,"k":"D","x":1264,"p":0.55},{"i":36,"k":"D","x":1233,"p":0.4},{"i":36,"k":"D","x":1213,"p":0.25},{"i":36,"k":"D","x":1183,"p":0.2},{"i":36,"k":"D","x":1143,"p":0.1},{"i":36,"k":"D","x":1093,"p":0.03},{"i":36,"k":"D","x":1040,"p":0},
{"i":36,"k":"R95","a":1525,"b":1120},{"i":36,"k":"R68","a":1440,"b":1260},
{"i":37,"k":"L","r":"NZA 14904\u00a0\u00a0 3103±65BP","a":1857,"b":796},
{"i":37,"k":"D","x":1590,"p":0},{"i":37,"k":"D","x":1525,"p":0.08},{"i":37,"k":"D","x":1495,"p":0.25},{"i":37,"k":"D","x":1465,"p":0.35},{"i":37,"k":"D","x":1435,"p":0.6},{"i":37,"k":"D","x":1404,"p":0.95},{"i":37,"k":"D","x":1394,"p":1},{"i":37,"k":"D","x":1364,"p":0.8},{"i":37,"k":"D","x":1324,"p":0.65},{"i":37,"k":"D","x":1304,"p":0.5},{"i":37,"k":"D","x":1264,"p":0.35},{"i":37,"k":"D","x":1233,"p":0.2},{"i":37,"k":"D","x":1203,"p":0.08},{"i":37,"k":"D","x":1133,"p":0.05},{"i":37,"k":"D","x":1100,"p":0},
{"i":37,"k":"R95","a":1510,"b":1190},{"i":37,"k":"R68","a":1450,"b":1300},
{"i":38,"k":"L","r":"Wk 19343\u00a0\u00a0 3119±33BP","a":1711,"b":1020},
{"i":38,"k":"D","x":1515,"p":0},{"i":38,"k":"D","x":1490,"p":0.08},{"i":38,"k":"D","x":1465,"p":0.1},{"i":38,"k":"D","x":1440,"p":0.35},{"i":38,"k":"D","x":1420,"p":0.8},{"i":38,"k":"D","x":1404,"p":1},{"i":38,"k":"D","x":1384,"p":0.75},{"i":38,"k":"D","x":1364,"p":0.3},{"i":38,"k":"D","x":1349,"p":0.1},{"i":38,"k":"D","x":1329,"p":0.4},{"i":38,"k":"D","x":1314,"p":0.1},{"i":38,"k":"D","x":1290,"p":0},
{"i":38,"k":"R95","a":1500,"b":1470},{"i":38,"k":"R95","a":1460,"b":1300},{"i":38,"k":"R68","a":1440,"b":1370},{"i":38,"k":"R68","a":1333,"b":1320},
{"i":39,"k":"L","r":"Wk 19329\u00a0\u00a0 3120±34BP","a":1716,"b":1020},
{"i":39,"k":"D","x":1515,"p":0},{"i":39,"k":"D","x":1490,"p":0.08},{"i":39,"k":"D","x":1465,"p":0.1},{"i":39,"k":"D","x":1440,"p":0.4},{"i":39,"k":"D","x":1420,"p":0.8},{"i":39,"k":"D","x":1410,"p":1},{"i":39,"k":"D","x":1384,"p":0.75},{"i":39,"k":"D","x":1364,"p":0.3},{"i":39,"k":"D","x":1349,"p":0.12},{"i":39,"k":"D","x":1329,"p":0.45},{"i":39,"k":"D","x":1314,"p":0.1},{"i":39,"k":"D","x":1290,"p":0},
{"i":39,"k":"R95","a":1500,"b":1470},{"i":39,"k":"R95","a":1460,"b":1300},{"i":39,"k":"R68","a":1440,"b":1370},{"i":39,"k":"R68","a":1333,"b":1320},
{"i":40,"k":"L","r":"Wk 18461\u00a0\u00a0 3124±30BP","a":1706,"b":1025},
{"i":40,"k":"D","x":1500,"p":0},{"i":40,"k":"D","x":1490,"p":0.05},{"i":40,"k":"D","x":1465,"p":0.1},{"i":40,"k":"D","x":1440,"p":0.45},{"i":40,"k":"D","x":1420,"p":0.85},{"i":40,"k":"D","x":1410,"p":1},{"i":40,"k":"D","x":1384,"p":0.7},{"i":40,"k":"D","x":1364,"p":0.3},{"i":40,"k":"D","x":1349,"p":0.1},{"i":40,"k":"D","x":1329,"p":0.4},{"i":40,"k":"D","x":1314,"p":0.05},{"i":40,"k":"D","x":1295,"p":0},
{"i":40,"k":"R95","a":1490,"b":1470},{"i":40,"k":"R95","a":1460,"b":1310},{"i":40,"k":"R68","a":1440,"b":1380},{"i":40,"k":"R68","a":1333,"b":1320},
{"i":41,"k":"L","r":"OxA 17823\u00a0\u00a0 3132±27BP","a":1706,"b":1109},
{"i":41,"k":"D","x":1505,"p":0},{"i":41,"k":"D","x":1495,"p":0.1},{"i":41,"k":"D","x":1475,"p":0.05},{"i":41,"k":"D","x":1445,"p":0.2},{"i":41,"k":"D","x":1425,"p":0.7},{"i":41,"k":"D","x":1414,"p":1},{"i":41,"k":"D","x":1394,"p":0.7},{"i":41,"k":"D","x":1374,"p":0.2},{"i":41,"k":"D","x":1349,"p":0.05},{"i":41,"k":"D","x":1329,"p":0.2},{"i":41,"k":"D","x":1314,"p":0.02},{"i":41,"k":"D","x":1300,"p":0},
{"i":41,"k":"R95","a":1500,"b":1475},{"i":41,"k":"R95","a":1460,"b":1370},{"i":41,"k":"R95","a":1350,"b":1310},{"i":41,"k":"R68","a":1440,"b":1390},
{"i":42,"k":"L","r":"Wk 18457\u00a0\u00a0 3135±30BP","a":1711,"b":1030},
{"i":42,"k":"D","x":1505,"p":0},{"i":42,"k":"D","x":1495,"p":0.1},{"i":42,"k":"D","x":1475,"p":0.05},{"i":42,"k":"D","x":1445,"p":0.3},{"i":42,"k":"D","x":1430,"p":0.7},{"i":42,"k":"D","x":1417,"p":1},{"i":42,"k":"D","x":1399,"p":0.75},{"i":42,"k":"D","x":1374,"p":0.25},{"i":42,"k":"D","x":1349,"p":0.05},{"i":42,"k":"D","x":1329,"p":0.25},{"i":42,"k":"D","x":1314,"p":0.02},{"i":42,"k":"D","x":1300,"p":0},
{"i":42,"k":"R95","a":1500,"b":1370},{"i":42,"k":"R95","a":1350,"b":1310},{"i":42,"k":"R68","a":1445,"b":1390},
{"i":43,"k":"L","r":"NZA 14901\u00a0\u00a0 3135±65BP","a":1976,"b":811},
{"i":43,"k":"D","x":1640,"p":0},{"i":43,"k":"D","x":1545,"p":0.1},{"i":43,"k":"D","x":1505,"p":0.3},{"i":43,"k":"D","x":1465,"p":0.55},{"i":43,"k":"D","x":1435,"p":0.8},{"i":43,"k":"D","x":1414,"p":1},{"i":43,"k":"D","x":1384,"p":0.85},{"i":43,"k":"D","x":1354,"p":0.6},{"i":43,"k":"D","x":1329,"p":0.75},{"i":43,"k":"D","x":1304,"p":0.4},{"i":43,"k":"D","x":1264,"p":0.2},{"i":43,"k":"D","x":1213,"p":0.05},{"i":43,"k":"D","x":1160,"p":0},
{"i":43,"k":"R95","a":1540,"b":1250},{"i":43,"k":"R95","a":1240,"b":1210},{"i":43,"k":"R68","a":1465,"b":1370},{"i":43,"k":"R68","a":1350,"b":1310},
{"i":44,"k":"L","r":"Wk 18575\u00a0\u00a0 3137±36BP","a":1731,"b":1020},
{"i":44,"k":"D","x":1510,"p":0},{"i":44,"k":"D","x":1500,"p":0.05},{"i":44,"k":"D","x":1490,"p":0.25},{"i":44,"k":"D","x":1475,"p":0.15},{"i":44,"k":"D","x":1450,"p":0.4},{"i":44,"k":"D","x":1430,"p":0.8},{"i":44,"k":"D","x":1420,"p":1},{"i":44,"k":"D","x":1394,"p":0.75},{"i":44,"k":"D","x":1374,"p":0.3},{"i":44,"k":"D","x":1354,"p":0.1},{"i":44,"k":"D","x":1329,"p":0.35},{"i":44,"k":"D","x":1314,"p":0.05},{"i":44,"k":"D","x":1290,"p":0},
{"i":44,"k":"R95","a":1500,"b":1360},{"i":44,"k":"R95","a":1350,"b":1310},{"i":44,"k":"R68","a":1460,"b":1380},
{"i":45,"k":"L","r":"WK 18577\u00a0\u00a0 3140±34BP","a":1726,"b":1025},
{"i":45,"k":"D","x":1510,"p":0},{"i":45,"k":"D","x":1500,"p":0.05},{"i":45,"k":"D","x":1490,"p":0.3},{"i":45,"k":"D","x":1475,"p":0.15},{"i":45,"k":"D","x":1450,"p":0.45},{"i":45,"k":"D","x":1430,"p":0.85},{"i":45,"k":"D","x":1418,"p":1},{"i":45,"k":"D","x":1394,"p":0.7},{"i":45,"k":"D","x":1374,"p":0.3},{"i":45,"k":"D","x":1354,"p":0.08},{"i":45,"k":"D","x":1329,"p":0.3},{"i":45,"k":"D","x":1314,"p":0.03},{"i":45,"k":"D","x":1295,"p":0},
{"i":45,"k":"R95","a":1500,"b":1370},{"i":45,"k":"R95","a":1350,"b":1310},{"i":45,"k":"R68","a":1455,"b":1385},
{"i":46,"k":"L","r":"Wk 18573\u00a0\u00a0 3149±32BP","a":1726,"b":1030},
{"i":46,"k":"D","x":1510,"p":0},{"i":46,"k":"D","x":1500,"p":0.05},{"i":46,"k":"D","x":1487,"p":0.35},{"i":46,"k":"D","x":1470,"p":0.2},{"i":46,"k":"D","x":1450,"p":0.45},{"i":46,"k":"D","x":1430,"p":0.85},{"i":46,"k":"D","x":1425,"p":1},{"i":46,"k":"D","x":1404,"p":0.7},{"i":46,"k":"D","x":1379,"p":0.2},{"i":46,"k":"D","x":1354,"p":0.05},{"i":46,"k":"D","x":1329,"p":0.12},{"i":46,"k":"D","x":1314,"p":0.02},{"i":46,"k":"D","x":1300,"p":0},
{"i":46,"k":"R95","a":1500,"b":1370},{"i":46,"k":"R95","a":1340,"b":1320},{"i":46,"k":"R68","a":1490,"b":1480},{"i":46,"k":"R68","a":1460,"b":1395},
{"i":47,"k":"L","r":"GU 14473\u00a0\u00a0 3150±35BP","a":1736,"b":1025},
{"i":47,"k":"D","x":1510,"p":0},{"i":47,"k":"D","x":1500,"p":0.05},{"i":47,"k":"D","x":1487,"p":0.35},{"i":47,"k":"D","x":1470,"p":0.2},{"i":47,"k":"D","x":1450,"p":0.5},{"i":47,"k":"D","x":1432,"p":0.85},{"i":47,"k":"D","x":1425,"p":1},{"i":47,"k":"D","x":1404,"p":0.7},{"i":47,"k":"D","x":1379,"p":0.2},{"i":47,"k":"D","x":1354,"p":0.05},{"i":47,"k":"D","x":1329,"p":0.12},{"i":47,"k":"D","x":1314,"p":0.02},{"i":47,"k":"D","x":1300,"p":0},
{"i":47,"k":"R95","a":1500,"b":1370},{"i":47,"k":"R95","a":1340,"b":1310},{"i":47,"k":"R68","a":1490,"b":1480},{"i":47,"k":"R68","a":1460,"b":1395},
{"i":48,"k":"L","r":"Wk 18460\u00a0\u00a0 3153±32BP","a":1726,"b":1096},
{"i":48,"k":"D","x":1510,"p":0},{"i":48,"k":"D","x":1500,"p":0.05},{"i":48,"k":"D","x":1487,"p":0.4},{"i":48,"k":"D","x":1470,"p":0.2},{"i":48,"k":"D","x":1450,"p":0.45},{"i":48,"k":"D","x":1432,"p":0.85},{"i":48,"k":"D","x":1422,"p":1},{"i":48,"k":"D","x":1404,"p":0.7},{"i":48,"k":"D","x":1379,"p":0.2},{"i":48,"k":"D","x":1354,"p":0.05},{"i":48,"k":"D","x":1329,"p":0.12},{"i":48,"k":"D","x":1314,"p":0.02},{"i":48,"k":"D","x":1300,"p":0},
{"i":48,"k":"R95","a":1500,"b":1380},{"i":48,"k":"R95","a":1340,"b":1320},{"i":48,"k":"R68","a":1490,"b":1480},{"i":48,"k":"R68","a":1460,"b":1395},
{"i":49,"k":"L","r":"Wk 10030","a":1840,"b":1015},
{"i":49,"k":"D","x":1550,"p":0},{"i":49,"k":"D","x":1535,"p":0.02},{"i":49,"k":"D","x":1505,"p":0.1},{"i":49,"k":"D","x":1490,"p":0.4},{"i":49,"k":"D","x":1465,"p":0.55},{"i":49,"k":"D","x":1440,"p":0.8},{"i":49,"k":"D","x":1430,"p":0.95},{"i":49,"k":"D","x":1420,"p":1},{"i":49,"k":"D","x":1404,"p":0.85},{"i":49,"k":"D","x":1374,"p":0.3},{"i":49,"k":"D","x":1354,"p":0.08},{"i":49,"k":"D","x":1329,"p":0.12},{"i":49,"k":"D","x":1314,"p":0.02},{"i":49,"k":"D","x":1300,"p":0},
{"i":49,"k":"R95","a":1530,"b":1360},{"i":49,"k":"R95","a":1350,"b":1310},{"i":49,"k":"R68","a":1470,"b":1410}
]},
"facet":{"row":{"field":"i","type":"ordinal","sort":"ascending","header":{"labels":false,"title":null}}},
"spec":{
"width":883,
"height":27,
"layer":[
{"transform":[{"filter":"datum.k=='L'"}],
 "mark":{"type":"rule","color":"#000000","strokeWidth":1.4},
 "encoding":{
  "x":{"field":"a","type":"quantitative","scale":{"domain":[500,2500],"reverse":true,"nice":false,"zero":false},
   "axis":{"values":[2000,1500,1000,500],"format":"d","domain":false,"grid":false,"ticks":true,"tickSize":13,"tickColor":"#1a1a1a","tickWidth":1,
    "labelFont":"Liberation Sans","labelFontSize":17,"labelColor":"#000000","labelPadding":16,"labelFlush":true,
    "title":"Calibrated date cal BC","titleFont":"Liberation Sans","titleFontSize":18.5,"titleFontWeight":"normal","titleColor":"#000000","titlePadding":6,"titleX":450}},
  "x2":{"field":"b"},
  "y":{"datum":0,"type":"quantitative","scale":{"domain":[-0.784,1.23],"nice":false,"zero":false},"axis":null}}},
{"transform":[{"filter":"datum.k=='L'"}],"mark":{"type":"rule","color":"#1a1a1a","strokeWidth":1},"encoding":{"x":{"datum":1500,"type":"quantitative"},"y":{"datum":-0.784,"type":"quantitative"},"y2":{"datum":1.23}}},
{"transform":[{"filter":"datum.k=='L'"}],"mark":{"type":"rule","color":"#1a1a1a","strokeWidth":1},"encoding":{"x":{"datum":1000,"type":"quantitative"},"y":{"datum":-0.784,"type":"quantitative"},"y2":{"datum":1.23}}},
{"transform":[{"filter":"datum.k=='L'"}],"mark":{"type":"rule","color":"#1a1a1a","strokeWidth":1,"strokeDash":[4,19,4,100]},"encoding":{"x":{"datum":2400,"type":"quantitative"},"y":{"datum":-0.784,"type":"quantitative"},"y2":{"datum":1.23}}},
{"transform":[{"filter":"datum.k=='L'"}],"mark":{"type":"rule","color":"#1a1a1a","strokeWidth":1,"strokeDash":[4,19,4,100]},"encoding":{"x":{"datum":2300,"type":"quantitative"},"y":{"datum":-0.784,"type":"quantitative"},"y2":{"datum":1.23}}},
{"transform":[{"filter":"datum.k=='L'"}],"mark":{"type":"rule","color":"#1a1a1a","strokeWidth":1,"strokeDash":[4,19,4,100]},"encoding":{"x":{"datum":2200,"type":"quantitative"},"y":{"datum":-0.784,"type":"quantitative"},"y2":{"datum":1.23}}},
{"transform":[{"filter":"datum.k=='L'"}],"mark":{"type":"rule","color":"#1a1a1a","strokeWidth":1,"strokeDash":[4,19,4,100]},"encoding":{"x":{"datum":2100,"type":"quantitative"},"y":{"datum":-0.784,"type":"quantitative"},"y2":{"datum":1.23}}},
{"transform":[{"filter":"datum.k=='L'"}],"mark":{"type":"rule","color":"#1a1a1a","strokeWidth":1,"strokeDash":[4,19,4,100]},"encoding":{"x":{"datum":2000,"type":"quantitative"},"y":{"datum":-0.784,"type":"quantitative"},"y2":{"datum":1.23}}},
{"transform":[{"filter":"datum.k=='L'"}],"mark":{"type":"rule","color":"#1a1a1a","strokeWidth":1,"strokeDash":[4,19,4,100]},"encoding":{"x":{"datum":1900,"type":"quantitative"},"y":{"datum":-0.784,"type":"quantitative"},"y2":{"datum":1.23}}},
{"transform":[{"filter":"datum.k=='L'"}],"mark":{"type":"rule","color":"#1a1a1a","strokeWidth":1,"strokeDash":[4,19,4,100]},"encoding":{"x":{"datum":1800,"type":"quantitative"},"y":{"datum":-0.784,"type":"quantitative"},"y2":{"datum":1.23}}},
{"transform":[{"filter":"datum.k=='L'"}],"mark":{"type":"rule","color":"#1a1a1a","strokeWidth":1,"strokeDash":[4,19,4,100]},"encoding":{"x":{"datum":1700,"type":"quantitative"},"y":{"datum":-0.784,"type":"quantitative"},"y2":{"datum":1.23}}},
{"transform":[{"filter":"datum.k=='L'"}],"mark":{"type":"rule","color":"#1a1a1a","strokeWidth":1,"strokeDash":[4,19,4,100]},"encoding":{"x":{"datum":1600,"type":"quantitative"},"y":{"datum":-0.784,"type":"quantitative"},"y2":{"datum":1.23}}},
{"transform":[{"filter":"datum.k=='L'"}],"mark":{"type":"rule","color":"#1a1a1a","strokeWidth":1,"strokeDash":[4,19,4,100]},"encoding":{"x":{"datum":1400,"type":"quantitative"},"y":{"datum":-0.784,"type":"quantitative"},"y2":{"datum":1.23}}},
{"transform":[{"filter":"datum.k=='L'"}],"mark":{"type":"rule","color":"#1a1a1a","strokeWidth":1,"strokeDash":[4,19,4,100]},"encoding":{"x":{"datum":1300,"type":"quantitative"},"y":{"datum":-0.784,"type":"quantitative"},"y2":{"datum":1.23}}},
{"transform":[{"filter":"datum.k=='L'"}],"mark":{"type":"rule","color":"#1a1a1a","strokeWidth":1,"strokeDash":[4,19,4,100]},"encoding":{"x":{"datum":1200,"type":"quantitative"},"y":{"datum":-0.784,"type":"quantitative"},"y2":{"datum":1.23}}},
{"transform":[{"filter":"datum.k=='L'"}],"mark":{"type":"rule","color":"#1a1a1a","strokeWidth":1,"strokeDash":[4,19,4,100]},"encoding":{"x":{"datum":1100,"type":"quantitative"},"y":{"datum":-0.784,"type":"quantitative"},"y2":{"datum":1.23}}},
{"transform":[{"filter":"datum.k=='L'"}],"mark":{"type":"rule","color":"#1a1a1a","strokeWidth":1,"strokeDash":[4,19,4,100]},"encoding":{"x":{"datum":900,"type":"quantitative"},"y":{"datum":-0.784,"type":"quantitative"},"y2":{"datum":1.23}}},
{"transform":[{"filter":"datum.k=='L'"}],"mark":{"type":"rule","color":"#1a1a1a","strokeWidth":1,"strokeDash":[4,19,4,100]},"encoding":{"x":{"datum":800,"type":"quantitative"},"y":{"datum":-0.784,"type":"quantitative"},"y2":{"datum":1.23}}},
{"transform":[{"filter":"datum.k=='L'"}],"mark":{"type":"rule","color":"#1a1a1a","strokeWidth":1,"strokeDash":[4,19,4,100]},"encoding":{"x":{"datum":700,"type":"quantitative"},"y":{"datum":-0.784,"type":"quantitative"},"y2":{"datum":1.23}}},
{"transform":[{"filter":"datum.k=='L'"}],"mark":{"type":"rule","color":"#1a1a1a","strokeWidth":1,"strokeDash":[4,19,4,100]},"encoding":{"x":{"datum":600,"type":"quantitative"},"y":{"datum":-0.784,"type":"quantitative"},"y2":{"datum":1.23}}},
{"transform":[{"filter":"datum.k=='D'"}],
 "mark":{"type":"area","color":"#000000","interpolate":"monotone"},
 "encoding":{
  "x":{"field":"x","type":"quantitative"},
  "y":{"field":"p","type":"quantitative","stack":null},
  "y2":{"datum":0}}},
{"transform":[{"filter":"datum.k=='R68'"}],
 "mark":{"type":"rule","color":"#6a6a6a","strokeWidth":1.5},
 "encoding":{
  "x":{"field":"a","type":"quantitative"},
  "x2":{"field":"b"},
  "y":{"datum":-0.1,"type":"quantitative"}}},
{"transform":[{"filter":"datum.k=='R95'"}],
 "mark":{"type":"rule","color":"#000000","strokeWidth":1},
 "encoding":{
  "x":{"field":"a","type":"quantitative"},
  "x2":{"field":"b"},
  "y":{"datum":-0.2,"type":"quantitative"}}},
{"transform":[{"filter":"datum.k=='R95'"}],
 "mark":{"type":"rule","color":"#000000","strokeWidth":1},
 "encoding":{
  "x":{"field":"a","type":"quantitative"},
  "y":{"datum":-0.2,"type":"quantitative"},
  "y2":{"datum":0}}},
{"transform":[{"filter":"datum.k=='R95'"}],
 "mark":{"type":"rule","color":"#000000","strokeWidth":1},
 "encoding":{
  "x":{"field":"b","type":"quantitative"},
  "y":{"datum":-0.2,"type":"quantitative"},
  "y2":{"datum":0}}},
{"transform":[{"filter":"datum.k=='L'"}],
 "mark":{"type":"text","align":"left","baseline":"alphabetic","font":"Liberation Sans","fontSize":18.5,"color":"#000000"},
 "encoding":{
  "x":{"datum":2485,"type":"quantitative"},
  "y":{"datum":-0.373,"type":"quantitative"},
  "text":{"field":"r"}}}
]},
"resolve":{"axis":{"y":"shared","x":"shared"}},
"config":{"view":{"fill":"#cfdbd3","stroke":"#2a2a2a","strokeWidth":1},"font":"Liberation Sans","axisY":{"disable":true}}
}
